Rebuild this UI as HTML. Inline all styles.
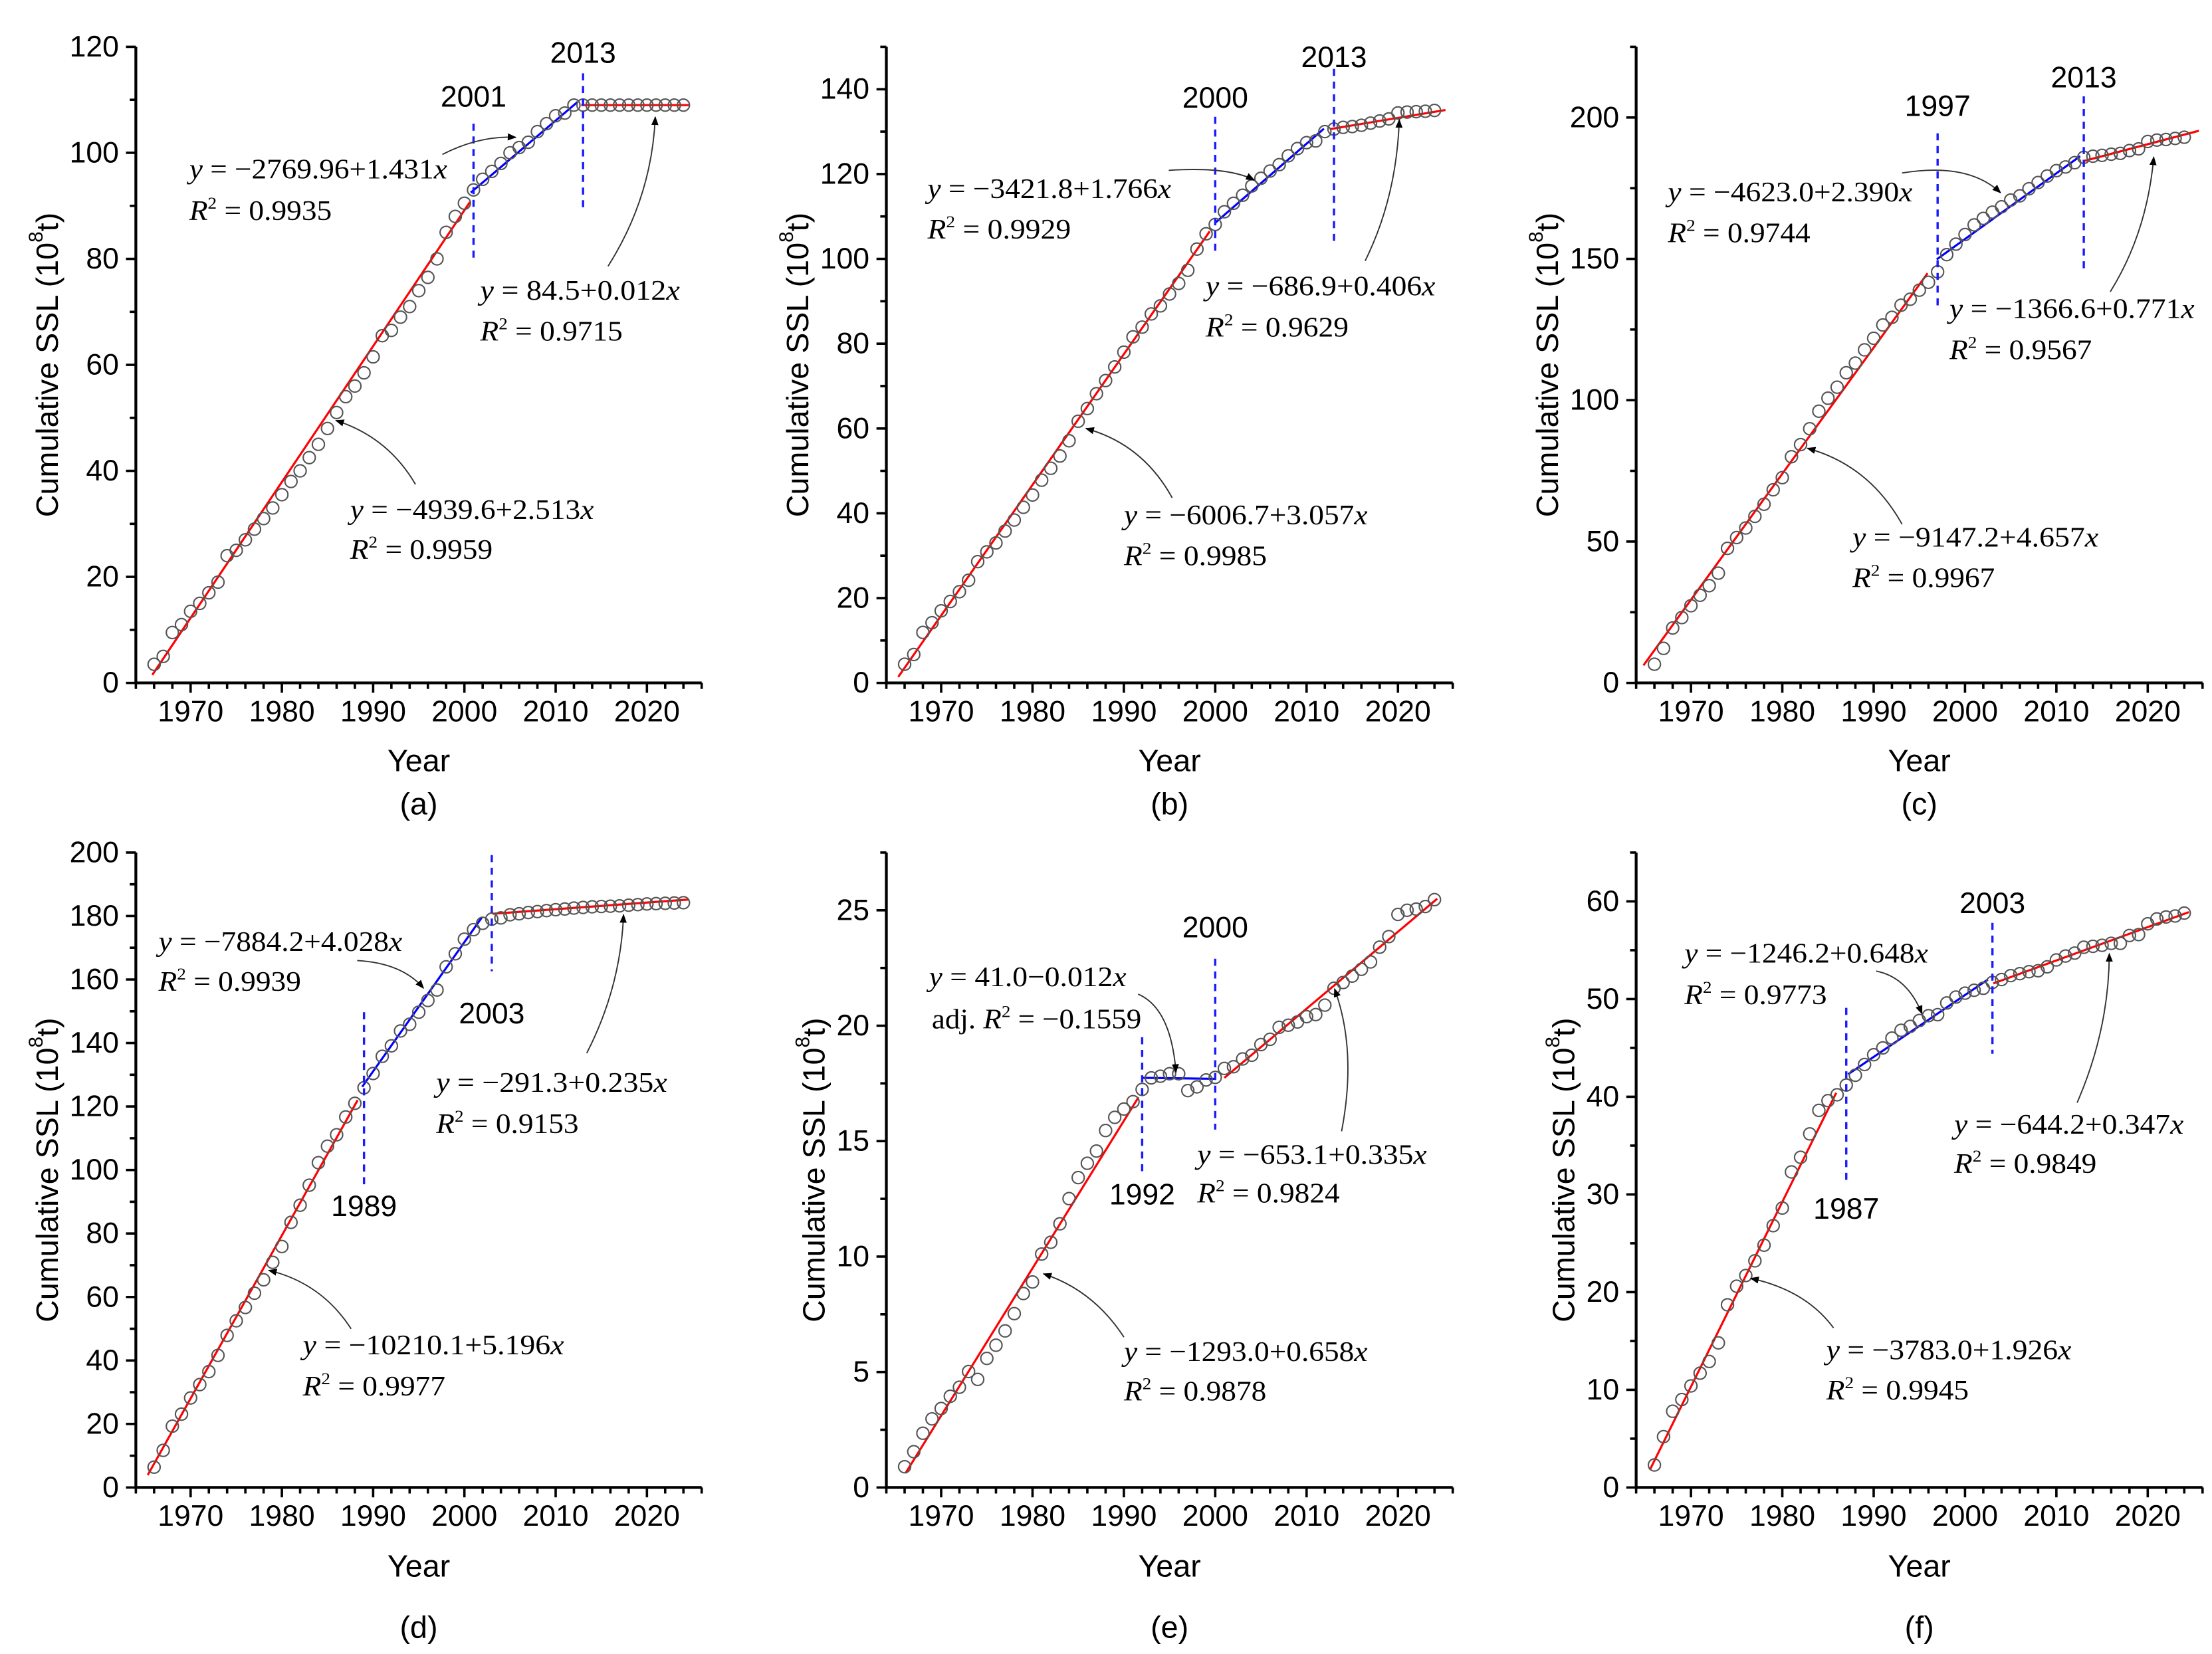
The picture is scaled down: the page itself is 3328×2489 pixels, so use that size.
<!DOCTYPE html>
<html><head><meta charset="utf-8"><title>Cumulative SSL segmented regressions</title>
<style>
html,body{margin:0;padding:0;background:#fff;}
svg{display:block;}
.tick{font-family:"Liberation Sans",Arial,sans-serif;font-size:21px;fill:#000;}
.title{font-family:"Liberation Sans",Arial,sans-serif;font-size:22px;fill:#000;}
.eq{font-family:"Liberation Serif","Times New Roman",serif;font-size:20px;fill:#000;}
</style></head>
<body>
<svg id="fig" width="3328" height="2489" viewBox="0 0 1568 1173" preserveAspectRatio="none" xmlns="http://www.w3.org/2000/svg">
<defs>
<marker id="ah" viewBox="0 0 10 10" refX="9" refY="5" markerWidth="7" markerHeight="7" orient="auto"><path d="M0,1 L10,5 L0,9 z" fill="#000"/></marker>
</defs>
<rect x="0" y="0" width="1568" height="1173" fill="#fff"/>
</svg>
<script>
const years = [1966,1967,1968,1969,1970,1971,1972,1973,1974,1975,1976,1977,1978,1979,1980,1981,1982,1983,1984,1985,1986,1987,1988,1989,1990,1991,1992,1993,1994,1995,1996,1997,1998,1999,2000,2001,2002,2003,2004,2005,2006,2007,2008,2009,2010,2011,2012,2013,2014,2015,2016,2017,2018,2019,2020,2021,2022,2023,2024];
const xTickLabels = [1970,1980,1990,2000,2010,2020];

const aVals = [3.5,5,9.5,11,13.5,15,17,19,24,25,27,29,31,33,35.5,38,40,42.5,45,48,51,54,56,58.5,61.5,65.5,66.5,69,71,74,76.5,80,85,88,90.5,93,95,96.5,98,100,101,102,104,105.5,107,107.5,109,109,109,109,109,109,109,109,109,109,109,109,109];
const bVals = [4.4,6.7,11.9,14.2,17,19.2,21.5,24.2,28.6,30.9,33,35.8,38.4,41.4,44.3,47.8,50.6,53.5,57.1,61.7,64.7,68.2,71.3,74.5,78,81.6,83.9,87,88.9,91.7,94.2,97.3,102.3,105.9,108.1,111.1,113.1,115,117.2,119,120.7,122.2,124.3,126,127.4,127.8,130,130.6,131,131.2,131.5,132,132.5,133,134.4,134.6,134.7,134.8,135];
const cVals = [6.6,12.2,19.4,23.1,27.3,31,34.4,38.8,47.6,51.4,54.8,58.9,63.2,68.3,72.6,80,84.3,89.9,96.1,100.7,104.6,109.7,113.1,117.8,121.9,126.6,129.3,133.6,135.7,138.9,141.7,145.4,151.5,155.2,158.6,162,164.3,166.5,168.4,170.8,172.3,174.8,177,179.3,181.2,182.5,184,185.9,186.3,186.6,187,187.3,188.3,188.9,191.5,192,192.2,192.6,193];
const dVals = [6.4,11.7,19.3,23.1,28.2,32.4,36.5,41.6,47.9,52.5,56.7,61.2,65.4,70.9,75.9,83.5,88.9,95.2,102.3,107.5,111.1,116.7,121,125.9,130.4,135.8,139.1,143.8,145.9,149.7,153.4,156.7,164,168.1,172.7,175.7,177.7,179,179.4,180.4,180.7,181.1,181.4,181.7,182,182.2,182.5,182.7,182.9,183,183.1,183.2,183.4,183.6,183.8,183.9,184,184.1,184.2];
const eVals = [0.9,1.55,2.35,2.97,3.42,3.95,4.34,5.02,4.68,5.59,6.16,6.78,7.53,8.4,8.9,10.11,10.62,11.42,12.51,13.42,14.04,14.57,15.46,16.03,16.39,16.71,17.24,17.74,17.81,17.92,17.92,17.19,17.35,17.65,17.76,18.15,18.22,18.56,18.72,19.18,19.41,19.93,20.02,20.16,20.39,20.48,20.89,21.62,21.87,22.15,22.44,22.76,23.4,23.86,24.82,25,25.05,25.16,25.46];
const fVals = [2.3,5.2,7.8,9,10.4,11.7,12.9,14.8,18.7,20.6,21.7,23.2,24.8,26.8,28.6,32.3,33.8,36.2,38.6,39.6,40.2,41.2,42.2,43.3,44.3,45,46,46.8,47.2,47.8,48.3,48.4,49.6,50.2,50.6,50.9,51.1,51.7,52,52.4,52.6,52.8,52.9,53.3,54,54.4,54.7,55.3,55.4,55.5,55.7,55.7,56.5,56.6,57.7,58.2,58.4,58.5,58.8];

const aFitX = [1965.8,2000.6, 2000.7,2012.4, 2012.8,2024.6];
const aFitY = [1.5,90.7, 92.5,109.6, 109,109];
const bFitX = [1965.3,1999.4, 2000,2011.9, 2012.6,2025.2];
const bFitY = [1.4,106.5, 108.5,130.7, 130.6,135.1];
const cFitX = [1964.8,1995.9, 1996.9,2012.6, 2013,2025.6];
const cFitY = [6.2,144.9, 149.8,186.3, 184.6,195.3];
const dFitX = [1965.3,1988.3, 1988.8,2001.9, 2003.1,2024.6];
const dFitY = [3.9,122, 126.2,179.5, 180.7,185.2];
const eFitX = [1966.1,1991.6, 1992.1,2000, 2001,2024.3];
const eFitY = [0.62,16.9, 17.74,17.7, 17.74,25.5];
const fFitX = [1965.5,1985.9, 1987.2,2002.5, 2003.1,2024.5];
const fFitY = [1.8,40.4, 42.3,52, 51.6,58.9];

const aBreaks = [2001,2013];  const aBreakLo = [79.6,89.4];  const aBreakHi = [105.5,115];  const aBreakLab = [110.5,118.8];
const bBreaks = [2000,2013];  const bBreakLo = [101.5,104];  const bBreakHi = [133.5,144.8]; const bBreakLab = [137.9,147.5];
const cBreaks = [1997,2013];  const cBreakLo = [132.6,146.4]; const cBreakHi = [194.4,207.5]; const cBreakLab = [204,214];
const dBreaks = [1989,2003];  const dBreakLo = [94.4,162.6];  const dBreakHi = [149.7,199.2]; const dBreakLab = [88.5,149.2];
const eBreaks = [1992,2000];  const eBreakLo = [13.6,15.5];   const eBreakHi = [19.5,22.9];   const eBreakLab = [12.67,24.25];
const fBreaks = [1987,2003];  const fBreakLo = [31.3,44.4];   const fBreakHi = [49.1,57.8];   const fBreakLab = [28.5,59.8];

const aYTicks = [0,20,40,60,80,100,120];
const bYTicks = [0,20,40,60,80,100,120,140];
const cYTicks = [0,50,100,150,200];
const dYTicks = [0,20,40,60,80,100,120,140,160,180,200];
const eYTicks = [0,5,10,15,20,25];
const fYTicks = [0,10,20,30,40,50,60];

const svg = document.getElementById('fig');
const NS = 'http://www.w3.org/2000/svg';
function mk(tag, attrs, parent){
  const e = document.createElementNS(NS, tag);
  for (const k in attrs) e.setAttribute(k, attrs[k]);
  (parent||svg).appendChild(e);
  return e;
}

const panels = [
 {id:'a', x0:96.3, x1:497.4, yT:33.2, yB:484.3, ymax:120, minor:10, vals:aVals, fx:aFitX, fy:aFitY, br:aBreaks, lo:aBreakLo, hi:aBreakHi, lab:aBreakLab, ticks:aYTicks, titleX:33.5, letterY:577.6, yearY:547, tickY:511.5,
  eqs:[
   {x:134.2,y:126.5,a:'−2769.96+1.431',w:182.8,r:'0.9935',ry:155.9,rw:101,arrow:[313.6,109.5,365.6,97.4,340,96]},
   {x:340.4,y:212.5,a:'84.5+0.012',w:141.5,r:'0.9715',ry:241.6,rw:101,arrow:[431,188.8,464.5,83,462,140]},
   {x:248.2,y:368,a:'−4939.6+2.513',w:172.7,r:'0.9959',ry:396.4,rw:101,arrow:[294.5,343.5,238.1,298.2,275,310]}
  ]},
 {id:'b', x0:628.3, x1:1029.8, yT:33.2, yB:484.3, ymax:150, minor:10, vals:bVals, fx:bFitX, fy:bFitY, br:bBreaks, lo:bBreakLo, hi:bBreakHi, lab:bBreakLab, ticks:bYTicks, titleX:565.3, letterY:577.6, yearY:547, tickY:511.5,
  eqs:[
   {x:657.5,y:140.4,a:'−3421.8+1.766',w:172.7,r:'0.9929',ry:169.1,rw:101.6,arrow:[828.5,120.8,889,127.6,870,118]},
   {x:854.7,y:209.5,a:'−686.9+0.406',w:162.7,r:'0.9629',ry:238.6,rw:101.3,arrow:[967.7,185,991.9,84.9,990,140]},
   {x:796.7,y:371.8,a:'−6006.7+3.057',w:172.7,r:'0.9985',ry:400.9,rw:101.3,arrow:[830.9,353,769.8,303.9,810,315]}
  ]},
 {id:'c', x0:1159.8, x1:1561.3, yT:33.2, yB:484.3, ymax:225, minor:25, vals:cVals, fx:cFitX, fy:cFitY, br:cBreaks, lo:cBreakLo, hi:cBreakHi, lab:cBreakLab, ticks:cYTicks, titleX:1096.8, letterY:577.6, yearY:547, tickY:511.5,
  eqs:[
   {x:1182.3,y:142.7,a:'−4623.0+2.390',w:173.4,r:'0.9744',ry:171.8,rw:101,arrow:[1348.3,122.7,1418.1,136.7,1395,115]},
   {x:1381.9,y:225.4,a:'−1366.6+0.771',w:173.7,r:'0.9567',ry:254.8,rw:101,arrow:[1495.9,206.9,1526.7,111.4,1522,165]},
   {x:1313.1,y:387.7,a:'−9147.2+4.657',w:174.4,r:'0.9967',ry:416.4,rw:101,arrow:[1348.3,371.8,1281.2,317.9,1325,330]}
  ]},
 {id:'d', x0:96.3, x1:497.4, yT:604.6, yB:1054.9, ymax:200, minor:10, vals:dVals, fx:dFitX, fy:dFitY, br:dBreaks, lo:dBreakLo, hi:dBreakHi, lab:dBreakLab, ticks:dYTicks, titleX:33.5, letterY:1161.4, yearY:1118, tickY:1082,
  eqs:[
   {x:112.4,y:674.4,a:'−7884.2+4.028',w:172.7,r:'0.9939',ry:702.7,rw:101,arrow:[253.2,681.2,300.2,700.8,285,683]},
   {x:309.2,y:774.4,a:'−291.3+0.235',w:163.7,r:'0.9153',ry:803.5,rw:101,arrow:[415.9,746.9,442,648.7,440,700]},
   {x:214.7,y:960.5,a:'−10210.1+5.196',w:185.1,r:'0.9977',ry:989.6,rw:101,arrow:[248.9,942.4,190.5,900.9,228,910]}
  ]},
 {id:'e', x0:628.3, x1:1029.8, yT:604.6, yB:1054.9, ymax:27.5, minor:2.5, vals:eVals, fx:eFitX, fy:eFitY, br:eBreaks, lo:eBreakLo, hi:eBreakHi, lab:eBreakLab, ticks:eYTicks, titleX:577, letterY:1161.4, yearY:1118, tickY:1082,
  eqs:[
   {x:658.5,y:699.4,a:'41.0−0.012',w:139.9,r:'−0.1559',ry:729.3,rw:148.6,adj:true,arrow:[806.8,705,833.6,760.4,830,715]},
   {x:848.7,y:825.5,a:'−653.1+0.335',w:162.7,r:'0.9824',ry:852.8,rw:101,arrow:[951,802.3,946,701.3,962,745]},
   {x:796.7,y:965.1,a:'−1293.0+0.658',w:172.7,r:'0.9878',ry:993.2,rw:101,arrow:[796.7,948.3,739.7,903.4,775,915]}
  ]},
 {id:'f', x0:1159.8, x1:1561.3, yT:604.6, yB:1054.9, ymax:65, minor:5, vals:fVals, fx:fFitX, fy:fFitY, br:fBreaks, lo:fBreakLo, hi:fBreakHi, lab:fBreakLab, ticks:fYTicks, titleX:1108.5, letterY:1161.4, yearY:1118, tickY:1082,
  eqs:[
   {x:1194,y:682.7,a:'−1246.2+0.648',w:172.7,r:'0.9773',ry:712,rw:101,arrow:[1329.9,688.7,1362.4,718.9,1352,693]},
   {x:1385.2,y:803.9,a:'−644.2+0.347',w:162.7,r:'0.9849',ry:831.8,rw:101,arrow:[1472.4,782,1495.2,676.3,1495,730]},
   {x:1294.6,y:963.9,a:'−3783.0+1.926',w:173.7,r:'0.9945',ry:992.6,rw:101,arrow:[1299.7,941.7,1241,906.6,1280,915]}
  ]}
];

panels.forEach(p => {
  const X0 = 1964, X1 = 2026;
  const sx = v => p.x0 + (v - X0) / (X1 - X0) * (p.x1 - p.x0);
  const sy = v => p.yB - v / p.ymax * (p.yB - p.yT);
  const g = mk('g', {});
  
  

  const colors = ['#ff0000', '#0000ff', '#ff0000'];
  for (let i = 0; i < 3; i++) {
    const ln = mk('line', {x1:sx(p.fx[2*i]), y1:sy(p.fy[2*i]), x2:sx(p.fx[2*i+1]), y2:sy(p.fy[2*i+1]), stroke:colors[i], 'stroke-width':1.5}, g);
    
    
  }
  years.forEach((yr, i) => {
    const c = mk('circle', {cx:sx(yr), cy:sy(p.vals[i]), r:4.3, fill:'none', stroke:'#555', 'stroke-width':1}, g);
    
    
  });
  p.br.forEach((b, i) => {
    const dl = mk('line', {x1:sx(b), y1:sy(p.hi[i]), x2:sx(b), y2:sy(p.lo[i]), stroke:'#1a1aff', 'stroke-width':1.6, 'stroke-dasharray':'5,4'}, g);
    
    
    const t = mk('text', {x:sx(b), y:sy(p.lab[i]), 'text-anchor':'middle', 'dominant-baseline':'central', class:'tick'}, g);
    t.textContent = String(b);
    
    
  });
  const ax = mk('path', {d:`M${p.x0},${p.yT} L${p.x0},${p.yB} L${p.x1},${p.yB}`, fill:'none', stroke:'#000', 'stroke-width':2}, g);
  
  
  let tp = '';
  for (let v = 0; v <= p.ymax + 1e-6; v += p.minor) {
    const major = p.ticks.some(t => Math.abs(t - v) < 1e-6);
    tp += `M${p.x0},${sy(v)} L${p.x0 - (major ? 7 : 4.3)},${sy(v)} `;
  }
  for (let yr = X0; yr <= X1; yr += 2) {
    const major = xTickLabels.indexOf(yr) >= 0;
    tp += `M${sx(yr)},${p.yB} L${sx(yr)},${p.yB + (major ? 7 : 4.3)} `;
  }
  const tk = mk('path', {d:tp, stroke:'#000', 'stroke-width':1.7, fill:'none'}, g);
  
  
  p.ticks.forEach(v => {
    const t = mk('text', {x:p.x0 - 12, y:sy(v), 'text-anchor':'end', 'dominant-baseline':'central', class:'tick'}, g);
    t.textContent = String(v);
    
    
  });
  xTickLabels.forEach(v => {
    const t = mk('text', {x:sx(v), y:p.tickY, 'text-anchor':'middle', class:'tick'}, g);
    t.textContent = String(v);
    
    
  });
  const mid = (p.x0 + p.x1) / 2, ymid = (p.yT + p.yB) / 2;
  const xt = mk('text', {x:mid, y:p.yearY, 'text-anchor':'middle', class:'title'}, g);
  xt.textContent = 'Year';
  
  
  const yt = mk('text', {x:0, y:0, 'text-anchor':'middle', 'dominant-baseline':'central', class:'title', transform:`translate(${p.titleX},${ymid}) rotate(-90)`}, g);
  yt.innerHTML = 'Cumulative SSL (10<tspan dy="-8" font-size="14">8</tspan><tspan dy="8">t)</tspan>';
  
  
  const lt = mk('text', {x:mid, y:p.letterY, 'text-anchor':'middle', class:'title'}, g);
  lt.textContent = '(' + p.id + ')';
  
  
  p.eqs.forEach(q => {
    const t1 = mk('text', {x:q.x, y:q.y, class:'eq', textLength:q.w, lengthAdjust:'spacingAndGlyphs'}, g);
    t1.innerHTML = '<tspan font-style="italic">y</tspan> = ' + q.a + '<tspan font-style="italic">x</tspan>';
    
    
    const t2 = mk('text', {x:q.x + (q.adj ? 2 : 0), y:q.ry, class:'eq', textLength:q.rw, lengthAdjust:'spacingAndGlyphs'}, g);
    t2.innerHTML = (q.adj ? 'adj. ' : '') + '<tspan font-style="italic">R</tspan><tspan dy="-8" font-size="12">2</tspan><tspan dy="8"> = ' + q.r + '</tspan>';
    
    
    const a = q.arrow;
    const ar = mk('path', {d:`M${a[0]},${a[1]} Q${a[4]},${a[5]} ${a[2]},${a[3]}`, fill:'none', stroke:'#333', 'stroke-width':0.9, 'marker-end':'url(#ah)'}, g);
    
    
  });
});
</script>
</body></html>
